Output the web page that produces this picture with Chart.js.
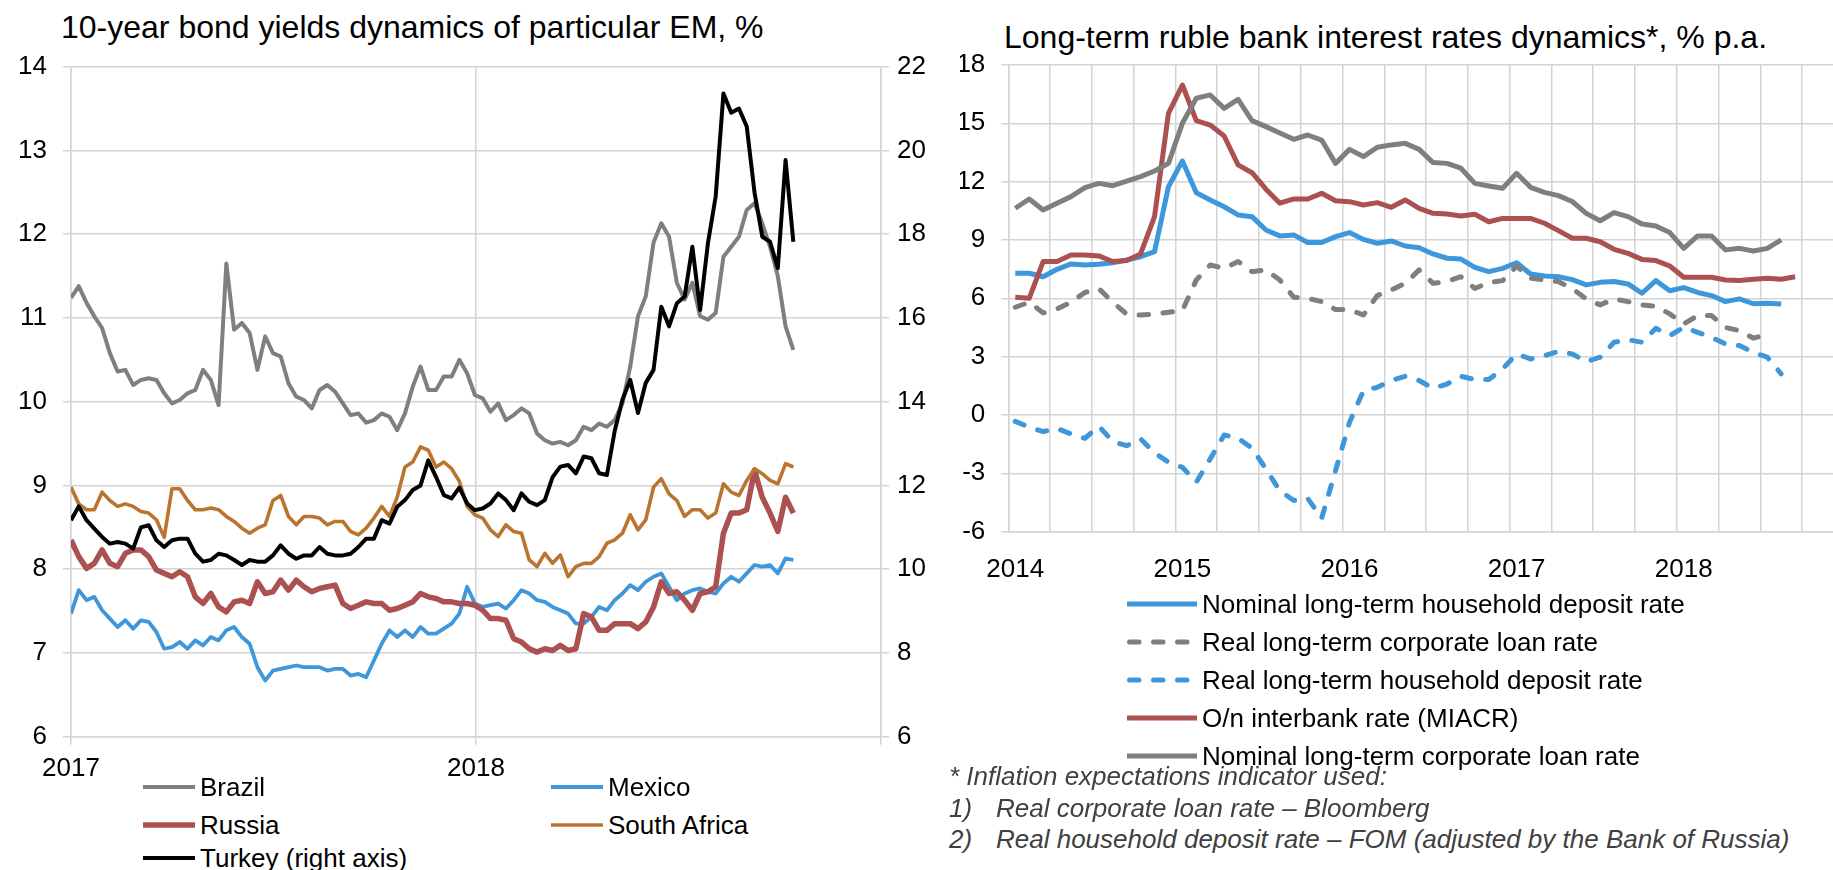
<!DOCTYPE html>
<html>
<head>
<meta charset="utf-8">
<script src="https://cdn.jsdelivr.net/npm/chart.js@4.4.1/dist/chart.umd.min.js"></script>
<style>
  html, body { margin: 0; padding: 0; background: #fff; }
  body { width: 1833px; height: 870px; overflow: hidden; position: relative;
         font-family: 'Liberation Sans', Arial, sans-serif; color: #000; }
  canvas { position: absolute; top: 0; }
  .title { position: absolute; font-size: 32px; line-height: 32px; white-space: nowrap; }
  .item { position: absolute; display: flex; align-items: center; font-size: 26px; line-height: 26px; white-space: nowrap; }
  .item svg { margin-right: 5px; display: block; }
  .note { position: absolute; left: 949px; font-size: 26px; line-height: 26px; font-style: italic; color: #404040; white-space: nowrap; }
  .note span { position: absolute; left: 47px; top: 0; }
</style>
</head>
<body>
<div class="title" style="left:61px; top:11px">10-year bond yields dynamics of particular EM, %</div>
<div class="title" style="left:1004px; top:21px">Long-term ruble bank interest rates dynamics*, % p.a.</div>
<canvas id="bonds" width="960" height="800" style="left:0"></canvas>
<canvas id="rates" width="900" height="600" style="left:960px"></canvas>
<div id="legends"></div>
<div class="note" style="top:763px">* Inflation expectations indicator used:</div>
<div class="note" style="top:795px">1)<span>Real corporate loan rate – Bloomberg</span></div>
<div class="note" style="top:826px">2)<span>Real household deposit rate – FOM (adjusted by the Bank of Russia)</span></div>

<script>
// ---- left chart: weekly readings, 2 Jan 2017 .. mid Oct 2018 ----
const brazil = [11.24, 11.38, 11.18, 11.02, 10.88, 10.58, 10.36, 10.38, 10.20, 10.26,
  10.28, 10.26, 10.10, 9.98, 10.02, 10.10, 10.14, 10.38, 10.26, 9.96,
  11.65, 10.86, 10.94, 10.82, 10.38, 10.78, 10.58, 10.54, 10.22, 10.06,
  10.02, 9.92, 10.14, 10.20, 10.12, 9.98, 9.84, 9.86, 9.75, 9.78,
  9.86, 9.82, 9.66, 9.86, 10.18, 10.42, 10.14, 10.14, 10.30, 10.30,
  10.50, 10.34, 10.08, 10.04, 9.88, 9.98, 9.78, 9.84, 9.92, 9.86,
  9.62, 9.54, 9.50, 9.52, 9.48, 9.54, 9.70, 9.66, 9.74, 9.70,
  9.78, 9.98, 10.42, 11.02, 11.26, 11.90, 12.13, 11.97, 11.42, 11.22,
  11.42, 11.02, 10.98, 11.06, 11.73, 11.85, 11.97, 12.29, 12.37, 12.13,
  11.85, 11.50, 10.90, 10.62];
const mexico = [7.47, 7.75, 7.63, 7.67, 7.51, 7.41, 7.31, 7.39, 7.29, 7.39,
  7.37, 7.25, 7.05, 7.07, 7.13, 7.05, 7.15, 7.09, 7.19, 7.15,
  7.27, 7.31, 7.19, 7.11, 6.83, 6.67, 6.79, 6.81, 6.83, 6.85,
  6.83, 6.83, 6.83, 6.79, 6.81, 6.81, 6.73, 6.75, 6.71, 6.91,
  7.11, 7.27, 7.19, 7.27, 7.19, 7.31, 7.23, 7.23, 7.29, 7.35,
  7.47, 7.79, 7.59, 7.55, 7.57, 7.59, 7.53, 7.63, 7.75, 7.71,
  7.63, 7.61, 7.55, 7.51, 7.47, 7.35, 7.35, 7.43, 7.55, 7.51,
  7.63, 7.71, 7.81, 7.75, 7.85, 7.91, 7.95, 7.79, 7.63, 7.71,
  7.75, 7.77, 7.73, 7.71, 7.83, 7.91, 7.85, 7.95, 8.05, 8.03,
  8.05, 7.95, 8.13, 8.11];
const russia = [8.35, 8.15, 8.01, 8.07, 8.23, 8.07, 8.03, 8.19, 8.23, 8.23,
  8.15, 7.99, 7.95, 7.91, 7.97, 7.91, 7.67, 7.59, 7.71, 7.55,
  7.49, 7.61, 7.63, 7.59, 7.85, 7.71, 7.73, 7.87, 7.75, 7.87,
  7.79, 7.73, 7.77, 7.79, 7.81, 7.59, 7.53, 7.57, 7.61, 7.59,
  7.59, 7.51, 7.53, 7.57, 7.61, 7.71, 7.67, 7.65, 7.61, 7.61,
  7.59, 7.59, 7.57, 7.51, 7.41, 7.41, 7.39, 7.17, 7.13, 7.05,
  7.01, 7.05, 7.03, 7.09, 7.03, 7.05, 7.47, 7.43, 7.27, 7.27,
  7.35, 7.35, 7.35, 7.29, 7.37, 7.55, 7.85, 7.71, 7.73, 7.63,
  7.51, 7.71, 7.73, 7.79, 8.43, 8.67, 8.67, 8.71, 9.18, 8.86,
  8.67, 8.45, 8.86, 8.67];
const southAfrica = [8.98, 8.78, 8.71, 8.71, 8.92, 8.82, 8.75, 8.78, 8.75, 8.69,
  8.67, 8.59, 8.38, 8.96, 8.96, 8.82, 8.71, 8.71, 8.73, 8.71,
  8.63, 8.57, 8.49, 8.43, 8.49, 8.53, 8.82, 8.88, 8.63, 8.53,
  8.63, 8.63, 8.61, 8.53, 8.57, 8.57, 8.45, 8.41, 8.49, 8.61,
  8.75, 8.63, 8.86, 9.22, 9.28, 9.46, 9.42, 9.22, 9.28, 9.20,
  9.05, 8.75, 8.65, 8.61, 8.47, 8.39, 8.53, 8.45, 8.43, 8.11,
  8.03, 8.19, 8.07, 8.17, 7.91, 8.03, 8.07, 8.07, 8.15, 8.31,
  8.35, 8.43, 8.65, 8.47, 8.59, 8.98, 9.08, 8.90, 8.82, 8.63,
  8.71, 8.71, 8.61, 8.67, 9.02, 8.92, 8.88, 9.06, 9.20, 9.14,
  9.06, 9.02, 9.26, 9.22];
const turkey = [11.17, 11.50, 11.17, 10.97, 10.77, 10.61, 10.65, 10.61, 10.49, 11.00,
  11.05, 10.69, 10.53, 10.69, 10.73, 10.73, 10.37, 10.18, 10.22, 10.37,
  10.33, 10.22, 10.10, 10.22, 10.18, 10.18, 10.33, 10.57, 10.37, 10.25,
  10.33, 10.33, 10.53, 10.37, 10.33, 10.33, 10.37, 10.53, 10.73, 10.73,
  11.17, 11.09, 11.49, 11.65, 11.89, 12.00, 12.60, 12.20, 11.77, 11.69,
  11.95, 11.57, 11.41, 11.45, 11.57, 11.81, 11.65, 11.41, 11.81, 11.61,
  11.53, 11.65, 12.20, 12.45, 12.49, 12.29, 12.69, 12.65, 12.29, 12.25,
  13.30, 14.05, 14.52, 13.73, 14.45, 14.76, 16.27, 15.80, 16.35, 16.51,
  17.70, 16.19, 17.78, 18.90, 21.36, 20.90, 21.00, 20.57, 19.00, 17.94,
  17.82, 17.19, 19.77, 17.82];
const weekDays = brazil.map((_, i) => i * 7);   // days since 1 Jan 2017
const bondYearLabels = ['2017', '2018', ''];

// ---- right chart: monthly, Jan 2014 .. Sep 2018 ----
const years = [2014, 2015, 2016, 2017, 2018];
const months = years.flatMap(y => ['01','02','03','04','05','06','07','08','09','10','11','12'].map(m => y + '-' + m));
const nominalDeposit = [7.29, 7.29, 7.11, 7.49, 7.77, 7.71, 7.75, 7.83, 7.97, 8.14, 8.40, 11.74,
  13.06, 11.43, 11.06, 10.71, 10.29, 10.20, 9.51, 9.21, 9.26, 8.87, 8.87, 9.17,
  9.38, 9.03, 8.83, 8.95, 8.69, 8.60, 8.28, 8.06, 8.02, 7.59, 7.37, 7.54,
  7.83, 7.25, 7.15, 7.11, 6.96, 6.69, 6.82, 6.86, 6.74, 6.26, 6.91, 6.39,
  6.55, 6.30, 6.14, 5.83, 5.97, 5.72, 5.74, 5.71];
const realCorporate = [5.54, 5.80, 5.25, 5.45, 5.80, 6.30, 6.50, 5.80, 5.19, 5.14, 5.19, 5.28,
  5.37, 6.94, 7.71, 7.54, 7.89, 7.37, 7.46, 6.94, 6.05, 6.00, 5.83, 5.42,
  5.42, 5.14, 6.14, 6.43, 6.77, 7.46, 6.77, 6.86, 7.11, 6.51, 6.81, 6.91,
  7.66, 7.03, 6.94, 6.86, 6.50, 5.97, 5.66, 5.97, 5.83, 5.66, 5.59, 5.20,
  4.68, 5.11, 5.11, 4.50, 4.34, 3.95, 4.15];
const realDeposit = [-0.33, -0.63, -0.86, -0.69, -0.98, -1.20, -0.58, -1.37, -1.58, -1.23, -1.95, -2.43,
  -2.69, -3.46, -2.26, -1.03, -1.20, -1.71, -2.78, -3.90, -4.40, -4.29, -5.31, -2.86,
  -0.38, 1.25, 1.42, 1.77, 1.99, 1.77, 1.37, 1.59, 1.99, 1.82, 1.82, 2.37,
  3.14, 2.88, 3.05, 3.27, 3.14, 2.74, 2.97, 3.74, 3.87, 3.74, 4.46, 4.08,
  4.51, 4.25, 3.99, 3.65, 3.57, 3.22, 2.97, 2.11];
const miacr = [6.05, 6.00, 7.89, 7.89, 8.23, 8.23, 8.18, 7.89, 7.94, 8.28, 10.20, 15.51,
  16.97, 15.14, 14.91, 14.35, 12.86, 12.46, 11.61, 10.89, 11.11, 11.11, 11.40, 11.02,
  10.97, 10.80, 10.92, 10.68, 11.06, 10.63, 10.37, 10.34, 10.23, 10.32, 9.94, 10.11,
  10.11, 10.11, 9.86, 9.48, 9.09, 9.09, 8.91, 8.52, 8.31, 8.00, 7.94, 7.66,
  7.08, 7.08, 7.08, 6.94, 6.91, 6.98, 7.03, 6.98, 7.11];
const nominalCorporate = [10.63, 11.11, 10.54, 10.89, 11.23, 11.69, 11.91, 11.79, 12.03, 12.26, 12.55, 12.94,
  15.00, 16.29, 16.46, 15.77, 16.23, 15.14, 14.83, 14.50, 14.18, 14.40, 14.14, 12.94,
  13.66, 13.29, 13.77, 13.89, 13.97, 13.66, 12.98, 12.94, 12.69, 11.91, 11.78, 11.66,
  12.43, 11.71, 11.45, 11.28, 10.98, 10.37, 9.99, 10.41, 10.20, 9.82, 9.72, 9.38,
  8.57, 9.21, 9.21, 8.49, 8.57, 8.43, 8.57, 9.00];

const GRID = '#d4d4d4';
const FONT = "'Liberation Sans', Arial, sans-serif";
const BLUE = '#3f97db', GREY = '#7f7f7f', RED = '#ab5151';
const DASH = [9.5, 14.5];
const tickFont = { family: FONT, size: 26 };

Chart.defaults.font.family = FONT;

const bondsChart = new Chart(document.getElementById('bonds'), {
  type: 'line',
  data: {
    labels: weekDays,
    datasets: [
      { label: 'Brazil', data: brazil, borderColor: GREY, borderWidth: 4, yAxisID: 'y', order: 4 },
      { label: 'Mexico', data: mexico, borderColor: BLUE, borderWidth: 3.8, yAxisID: 'y', order: 3 },
      { label: 'Russia', data: russia, borderColor: RED, borderWidth: 5.5, yAxisID: 'y', order: 2 },
      { label: 'South Africa', data: southAfrica, borderColor: '#bb742f', borderWidth: 3.6, yAxisID: 'y', order: 1 },
      { label: 'Turkey (right axis)', data: turkey, borderColor: '#000000', borderWidth: 4, yAxisID: 'y2', order: 0 }
    ]
  },
  options: {
    responsive: false,
    animation: false,
    layout: { padding: { top: 66.7, left: 0, right: 0, bottom: 0 } },
    elements: { point: { radius: 0 }, line: { tension: 0, borderJoinStyle: 'round' } },
    plugins: { legend: { display: false }, tooltip: { enabled: false } },
    scales: {
      x: {
        type: 'linear', min: 0, max: 730,
        grid: { color: GRID, lineWidth: 1.5, tickLength: 8 },
        border: { color: GRID, width: 1.5 },
        ticks: { stepSize: 365, autoSkip: false, maxRotation: 0, font: tickFont, color: '#000', padding: 9,
                 callback: (v, i) => bondYearLabels[i] },
        afterFit: s => { s.height = 63.3; }
      },
      y: {
        min: 6, max: 14,
        grid: { color: GRID, lineWidth: 1.5, tickLength: 8 },
        border: { color: GRID, width: 1.5 },
        ticks: { stepSize: 1, font: tickFont, color: '#000', padding: 16 },
        afterFit: s => { s.width = 71; }
      },
      y2: {
        position: 'right', min: 6, max: 22,
        grid: { drawOnChartArea: false, color: GRID, lineWidth: 1.5, tickLength: 8 },
        border: { color: GRID, width: 1.5 },
        ticks: { stepSize: 2, font: tickFont, color: '#000', padding: 8 },
        afterFit: s => { s.width = 79; }
      }
    }
  }
});

const ratesChart = new Chart(document.getElementById('rates'), {
  type: 'line',
  data: {
    labels: months,
    datasets: [
      { label: 'Nominal long-term household deposit rate', data: nominalDeposit, borderColor: BLUE, borderWidth: 5, order: 4 },
      { label: 'Real long-term corporate loan rate', data: realCorporate, borderColor: GREY, borderWidth: 5, borderDash: DASH, borderCapStyle: 'round', order: 3 },
      { label: 'Real long-term household deposit rate', data: realDeposit, borderColor: BLUE, borderWidth: 5, borderDash: DASH, borderCapStyle: 'round', order: 2 },
      { label: 'O/n interbank rate (MIACR)', data: miacr, borderColor: RED, borderWidth: 5, order: 1 },
      { label: 'Nominal long-term corporate loan rate', data: nominalCorporate, borderColor: GREY, borderWidth: 5, order: 0 }
    ]
  },
  options: {
    responsive: false,
    animation: false,
    layout: { padding: { top: 65, left: 0, right: 11.3, bottom: 0 } },
    elements: { point: { radius: 0 }, line: { tension: 0, borderJoinStyle: 'round' } },
    plugins: { legend: { display: false }, tooltip: { enabled: false } },
    scales: {
      x: {
        type: 'category', offset: true,
        grid: { offset: true, drawTicks: false, lineWidth: 1.5,
                color: c => (c.index !== undefined && c.index % 3 === 0 ? GRID : 'rgba(0,0,0,0)') },
        border: { color: GRID, width: 1.5 },
        ticks: { autoSkip: false, maxRotation: 0, font: tickFont, color: '#000', padding: 23,
                 callback: (v, i) => (i % 12 === 0 ? months[i].slice(0, 4) : '') },
        afterFit: s => { s.height = 68.4; }
      },
      y: {
        min: -6, max: 18,
        grid: { color: GRID, lineWidth: 1.5, tickLength: 7 },
        border: { color: GRID, width: 1.5 },
        ticks: { stepSize: 3, font: tickFont, color: '#000', padding: 16 },
        afterFit: s => { s.width = 48.3; }
      }
    }
  }
});

// ---- HTML legends built from the datasets ----
function sample(ds, w) {
  const h = 12, dashed = !!ds.borderDash;
  const inset = dashed ? ds.borderWidth / 2 : 0;
  return '<svg width="' + w + '" height="' + h + '"><line x1="' + inset + '" y1="' + h / 2 + '" x2="' + (w - inset) +
    '" y2="' + h / 2 + '" stroke="' + ds.borderColor + '" stroke-width="' + ds.borderWidth + '"' +
    (dashed ? ' stroke-dasharray="' + ds.borderDash.join(' ') + '" stroke-linecap="round"' : '') + '/></svg>';
}
function addLegend(chart, spots, w) {
  const box = document.getElementById('legends');
  chart.data.datasets.forEach((ds, i) => {
    const el = document.createElement('div');
    el.className = 'item';
    el.style.left = spots[i][0] + 'px';
    el.style.top = spots[i][1] + 'px';
    el.innerHTML = sample(ds, w) + '<span>' + ds.label + '</span>';
    box.appendChild(el);
  });
}
addLegend(bondsChart, [[143, 774], [551, 774], [143, 812], [551, 812], [143, 845]], 52);
addLegend(ratesChart, [[1127, 591], [1127, 629], [1127, 667], [1127, 705], [1127, 743]], 70);
</script>
</body>
</html>
